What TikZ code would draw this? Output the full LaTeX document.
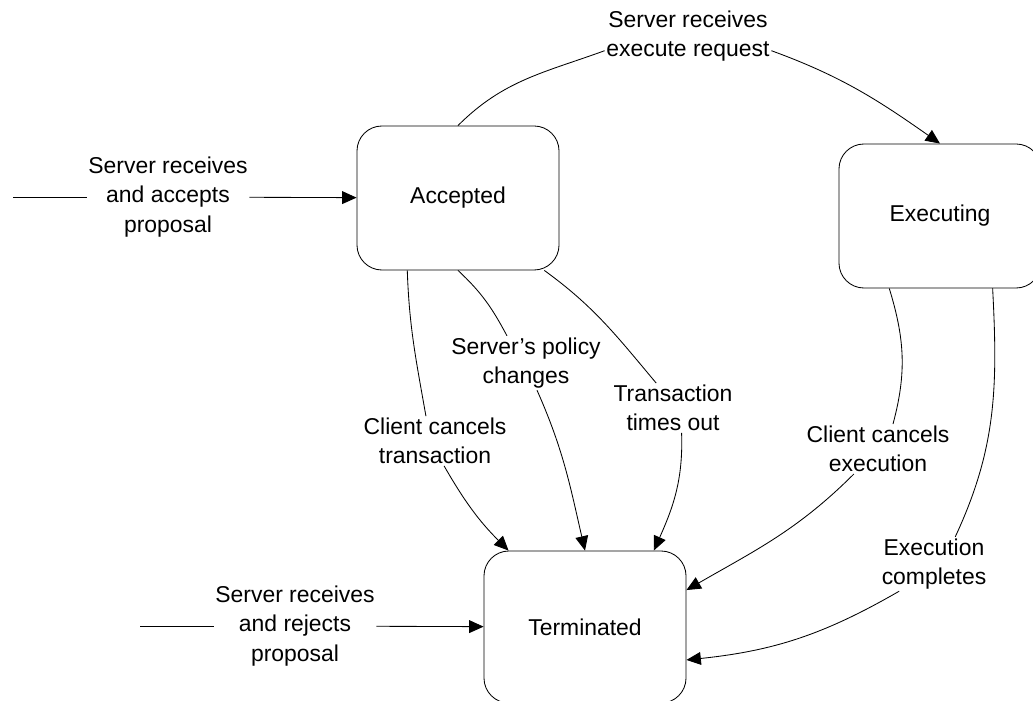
\documentclass[tikz,border=0pt]{standalone}
\usepackage{fontspec}
\setmainfont{Liberation Sans}
\usetikzlibrary{arrows.meta}
\begin{document}
\begin{tikzpicture}[x=0.025cm,y=-0.025cm,line width=0.6pt,
		font=\fontsize{16.3}{20.9}\selectfont,
		state/.style={draw,rounded corners=6.25mm,minimum width=5.05cm,minimum height=3.6cm},
		lbl/.style={align=center,inner sep=1pt},
		>={Triangle[length=3.6mm,width=3.2mm]}]
		%	\draw[help lines,step=50] (0,0) grid (1033,701);
			\useasboundingbox (0,0) rectangle (1033,701);
			\node[state] (acc) at (458,198) {Accepted};
			\node[state] (exe) at (940,216) {Executing};
			\node[state,minimum height=3.8cm] (term) at (585,627) {Terminated};
			\node[lbl] (getexe) at (688,36) {Server receives\\execute request};
			\node[lbl] (accept) at (168,197) {Server receives\\and accepts\\proposal};
			\node[lbl] (reject) at (295,626) {Server receives\\and rejects\\proposal};
			\node[lbl] (cancelA) at (435,441) {Client cancels\\transaction};
			\node[lbl] (policy) at (526,363) {Server’s policy\\changes};
			\node[lbl] (timeout) at (673,408) {Transaction\\times out};
			\node[lbl] (cancelE) at (878,449) {Client cancels\\execution};
			\node[lbl] (done) at (934,564) {Execution\\completes};
			\coordinate (inA) at (13,197);
			\coordinate (inT) at (140,626);
			% incoming
			\draw (inA) -- (accept);
			\draw [->] (accept) -- (acc);
			\draw (inT) -- (reject);
			\draw [->] (reject) -- (term);
			% accepted -> executing
			\draw (acc.north) to[out=45,in=200] (getexe.190);
			\draw [->] (getexe.-10) to[out=-20,in=145] (exe.north);
			% accepted -> terminated
			\draw (acc.235) to[out=-88,in=100] (cancelA.110);
			\draw [->] (cancelA.290) to[out=-60,in=135] (term.135);
			\draw (acc.south) to[out=-43,in=118] (policy.125);
			\draw [->] (policy.292) to[out=-66,in=103] (term.north);
			\draw (acc.-40) to[out=-36,in=130] (timeout.124);
			\draw [->] (timeout.289) to[out=-88,in=66] (term.48);
			% executing -> terminated
			\draw (exe.235) to[out=-73,in=75] (cancelE.59);
			\draw [->] (cancelE.226) to[out=225,in=30] (term.20);
			\draw (exe.306) to[out=-87,in=65] (done.52);
			\draw [->] (done.218) to[out=210,in=6] (term.-18);
		\end{tikzpicture}
\end{document}
